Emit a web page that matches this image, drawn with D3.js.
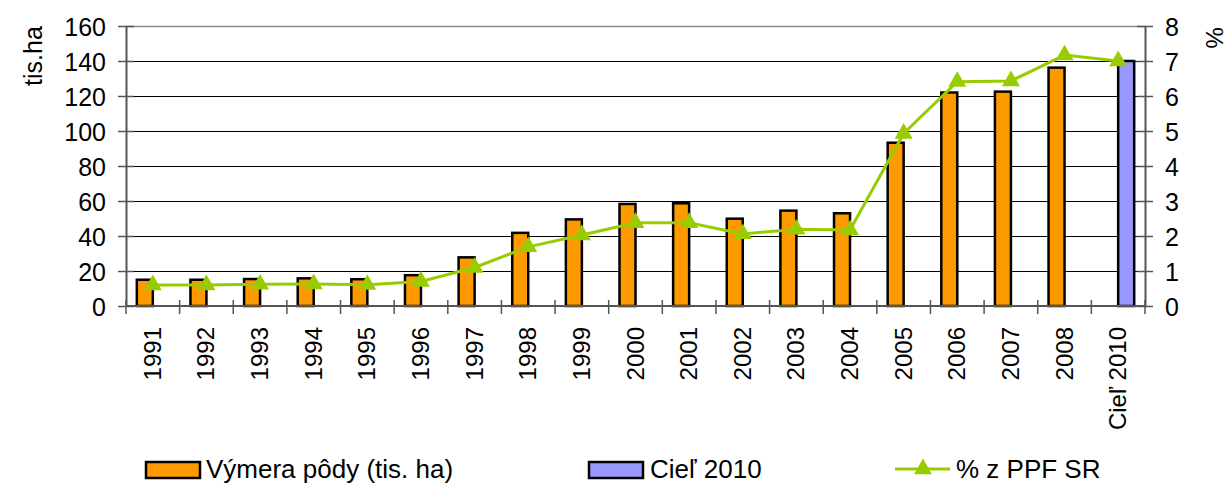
<!DOCTYPE html>
<html>
<head>
<meta charset="utf-8">
<script src="https://cdn.jsdelivr.net/npm/d3@7"></script>
<style>
  body { margin: 0; background: #fff; }
  text { font-family: "Liberation Sans", Arial, sans-serif; fill: #000; }
</style>
</head>
<body>
<div id="graph"></div>
<script>
// data
var years = ["1991","1992","1993","1994","1995","1996","1997","1998","1999","2000",
             "2001","2002","2003","2004","2005","2006","2007","2008","Cieľ 2010"];
var vymera = [15, 15, 15.4, 15.8, 15.3, 17.6, 27.8, 41.8, 49.5, 58.3,
              58.7, 49.9, 54.5, 53, 93.3, 122, 122.5, 136.2, null];
var ciel = [null, null, null, null, null, null, null, null, null, null,
            null, null, null, null, null, null, null, null, 140];
var percent = [0.6, 0.6, 0.62, 0.63, 0.61, 0.7, 1.1, 1.69, 2.03, 2.38,
               2.38, 2.06, 2.19, 2.17, 4.93, 6.41, 6.43, 7.17, 7.0];
var leftTicks = [0, 20, 40, 60, 80, 100, 120, 140, 160];
var rightTicks = [0, 1, 2, 3, 4, 5, 6, 7, 8];

var W = 1229, H = 483;
var pLeft = 126, pRight = 1145, pTop = 26, pBottom = 306;

var svg = d3.select("#graph").append("svg")
  .attr("width", W).attr("height", H);

var x = d3.scaleBand().domain(years).range([pLeft, pRight]);
var y = d3.scaleLinear().domain([0, 160]).range([pBottom, pTop]);
var y2 = d3.scaleLinear().domain([0, 8]).range([pBottom, pTop]);
var barW = 16;

// gridlines
svg.append("g").selectAll("line")
  .data(leftTicks.slice(1, -1))
  .enter().append("line")
  .attr("x1", pLeft).attr("x2", pRight)
  .attr("y1", function(d) { return Math.round(y(d)) + 0.5; })
  .attr("y2", function(d) { return Math.round(y(d)) + 0.5; })
  .attr("stroke", "#000").attr("stroke-width", 1);
svg.append("line")
  .attr("x1", pLeft).attr("x2", pRight).attr("y1", pTop + 0.5).attr("y2", pTop + 0.5)
  .attr("stroke", "#888").attr("stroke-width", 1.5);

// bars
svg.append("g").selectAll("rect")
  .data(years.filter(function(d, i) { return vymera[i] != null; }))
  .enter().append("rect")
  .attr("x", function(d) { return x(d) + x.bandwidth() / 2 - barW; })
  .attr("y", function(d) { return y(vymera[years.indexOf(d)]); })
  .attr("width", barW)
  .attr("height", function(d) { return pBottom - y(vymera[years.indexOf(d)]); })
  .attr("fill", "#FF9900").attr("stroke", "#000").attr("stroke-width", 2.5);

svg.append("g").selectAll("rect")
  .data(years.filter(function(d, i) { return ciel[i] != null; }))
  .enter().append("rect")
  .attr("x", function(d) { return x(d) + x.bandwidth() / 2; })
  .attr("y", function(d) { return y(ciel[years.indexOf(d)]); })
  .attr("width", barW)
  .attr("height", function(d) { return pBottom - y(ciel[years.indexOf(d)]); })
  .attr("fill", "#9999FF").attr("stroke", "#000").attr("stroke-width", 2.5);

// axes
var axisColor = "#555";
var yAxis = d3.axisLeft(y).tickValues(leftTicks).tickSize(0).tickPadding(20);
var gy = svg.append("g").attr("transform", "translate(" + pLeft + ",0)").call(yAxis);
gy.select(".domain").attr("stroke", axisColor).attr("stroke-width", 2);
gy.selectAll("text").style("font-size", "25px").attr("dy", "0.36em");
gy.selectAll(".tick").append("line").attr("x1", -8).attr("x2", 8)
  .attr("stroke", axisColor).attr("stroke-width", 1.5);

var yAxis2 = d3.axisRight(y2).tickValues(rightTicks).tickSize(0).tickPadding(20);
var gy2 = svg.append("g").attr("transform", "translate(" + pRight + ",0)").call(yAxis2);
gy2.select(".domain").attr("stroke", axisColor).attr("stroke-width", 2);
gy2.selectAll("text").style("font-size", "25px").attr("dy", "0.36em");
gy2.selectAll(".tick").append("line").attr("x1", -8).attr("x2", 8)
  .attr("stroke", axisColor).attr("stroke-width", 1.5);

// x axis
svg.append("line").attr("x1", pLeft).attr("x2", pRight)
  .attr("y1", pBottom).attr("y2", pBottom)
  .attr("stroke", axisColor).attr("stroke-width", 2);
var bounds = years.map(function(d) { return x(d); }).concat([pRight]);
svg.append("g").selectAll("line")
  .data(bounds).enter().append("line")
  .attr("x1", function(d) { return d; }).attr("x2", function(d) { return d; })
  .attr("y1", pBottom - 6).attr("y2", pBottom + 8)
  .attr("stroke", axisColor).attr("stroke-width", 1.5);
svg.append("g").selectAll("text")
  .data(years).enter().append("text")
  .attr("transform", function(d) {
    return "translate(" + (x(d) + x.bandwidth() / 2 + 8) + "," + 327 + ") rotate(-90)";
  })
  .attr("text-anchor", "end")
  .style("font-size", "24px")
  .text(function(d) { return d; });

// line series
var line = d3.line()
  .x(function(d, i) { return x(years[i]) + x.bandwidth() / 2; })
  .y(function(d) { return y2(d); });
svg.append("path").datum(percent)
  .attr("d", line).attr("fill", "none")
  .attr("stroke", "#99CC00").attr("stroke-width", 3);
var tri = d3.symbol().type(d3.symbolTriangle).size(140);
svg.append("g").selectAll("path")
  .data(percent).enter().append("path")
  .attr("d", tri)
  .attr("transform", function(d, i) {
    return "translate(" + (x(years[i]) + x.bandwidth() / 2) + "," + y2(d) + ")";
  })
  .attr("fill", "#99CC00");

// axis titles
svg.append("text").attr("transform", "translate(42,56) rotate(-90)")
  .attr("text-anchor", "middle").style("font-size", "25px").text("tis.ha");
svg.append("text").attr("transform", "translate(1206,38) rotate(90)")
  .attr("text-anchor", "middle").style("font-size", "24px").text("%");

// legend
var lg = svg.append("g");
lg.append("rect").attr("x", 146).attr("y", 462).attr("width", 54).attr("height", 16)
  .attr("fill", "#FF9900").attr("stroke", "#000").attr("stroke-width", 2.5);
lg.append("text").attr("x", 206).attr("y", 478).style("font-size", "26px").text("Výmera pôdy (tis. ha)");
lg.append("rect").attr("x", 589).attr("y", 462).attr("width", 54).attr("height", 16)
  .attr("fill", "#9999FF").attr("stroke", "#000").attr("stroke-width", 2.5);
lg.append("text").attr("x", 650).attr("y", 478).style("font-size", "26px").text("Cieľ 2010");
lg.append("line").attr("x1", 895).attr("x2", 950).attr("y1", 469).attr("y2", 469)
  .attr("stroke", "#99CC00").attr("stroke-width", 3);
lg.append("path").attr("d", tri).attr("transform", "translate(923,469)").attr("fill", "#99CC00");
lg.append("text").attr("x", 956).attr("y", 478).style("font-size", "26px").text("% z PPF SR");
</script>
</body>
</html>
